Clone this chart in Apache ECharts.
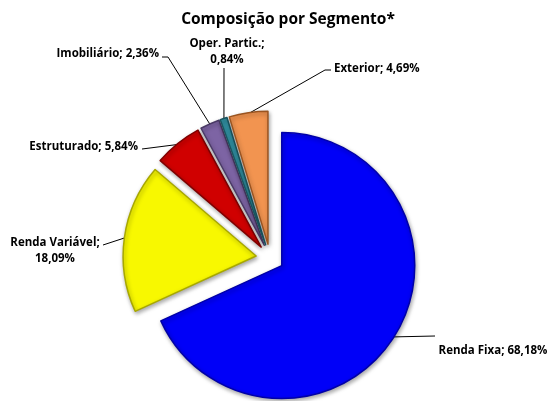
<!DOCTYPE html>
<html>
<head>
<meta charset="utf-8">
<script src="https://cdn.jsdelivr.net/npm/echarts@6/dist/echarts.min.js"></script>
<style>
  html, body { margin: 0; padding: 0; background: #fff; }
  #chart { width: 550px; height: 401px; }
</style>
</head>
<body>
<div id="chart"></div>
<script>
const segments = ["Renda Fixa", "Renda Variável", "Estruturado", "Imobiliário", "Oper. Partic.", "Exterior"];
const shares = [68.18, 18.09, 5.84, 2.36, 0.84, 4.69];
const colors = ["#0000f8", "#f8f800", "#d00000", "#7d64a4", "#3190a2", "#f29450"];
const edgeColors = ["#0000a8", "#a8a800", "#800000", "#4a3a66", "#1a5560", "#9a5420"];

// label placement: text anchor, alignment and where the leader line ends
const labelSpots = [
  { y: 351, align: "center", tx: 493, elbow: [[435, 336]] },
  { y: 251, align: "center", tx: 55, elbow: [[103, 245]] },
  { y: 147, align: "right", tx: 138, elbow: [[142, 149]] },
  { y: 54, align: "right", tx: 159, elbow: [[168, 57], [162, 57]] },
  { y: 52, align: "center", tx: 227, elbow: [[224, 68]] },
  { y: 69, align: "left", tx: 334, elbow: [[325, 70], [331, 70]] },
];

// labels that wrap onto two lines
const twoLine = { "Renda Variável": true, "Oper. Partic.": true };

const CENTER = [270, 258];
const RADIUS = 133;
const EXPLODE = 14;

function fmt(v) {
  return v.toFixed(2).replace(".", ",") + "%";
}

// outer edge point of each exploded slice at its mid angle
function anchors() {
  const total = shares.reduce((a, b) => a + b, 0);
  let acc = 0;
  return shares.map((v) => {
    const mid = ((acc + v / 2) / total) * Math.PI * 2;
    acc += v;
    const d = RADIUS + EXPLODE - 1;
    return [CENTER[0] + d * Math.sin(mid), CENTER[1] - d * Math.cos(mid)];
  });
}

const labelFont = { fontFamily: "Open Sans", fontWeight: "bold", fontSize: 11.5, fill: "#000" };

const graphics = [];
anchors().forEach((pt, i) => {
  const s = labelSpots[i];
  graphics.push({
    type: "polyline",
    silent: true,
    shape: { points: [pt].concat(s.elbow) },
    style: { stroke: "#000", lineWidth: 1, fill: null },
  });
  const name = segments[i];
  const text = (twoLine[name] ? name + ";\n" : name + "; ") + fmt(shares[i]);
  graphics.push({
    type: "text",
    silent: true,
    x: s.tx,
    y: s.y,
    style: Object.assign({
      text,
      align: s.align,
      verticalAlign: "middle",
      lineHeight: 16,
    }, labelFont),
  });
});

const chart = echarts.init(document.getElementById("chart"), null, { renderer: "canvas" });

chart.setOption({
  animation: false,
  title: {
    text: "Composição por Segmento*",
    left: 283,
    top: 7,
    textAlign: "center",
    textStyle: { fontFamily: "Open Sans", fontWeight: "bold", fontSize: 15.5, color: "#000" },
  },
  series: [
    {
      type: "pie",
      center: CENTER,
      radius: RADIUS,
      startAngle: 90,
      clockwise: true,
      selectedMode: "multiple",
      selectedOffset: EXPLODE,
      label: { show: false },
      labelLine: { show: false },
      emphasis: { disabled: true },
      data: segments.map((name, i) => ({
        name,
        value: shares[i],
        selected: true,
        itemStyle: {
          color: colors[i],
          borderColor: edgeColors[i],
          borderWidth: 1.5,
          shadowColor: "rgba(0,0,0,0.35)",
          shadowBlur: 4,
          shadowOffsetX: 1,
          shadowOffsetY: 2,
        },
      })),
    },
  ],
  graphic: graphics,
});
</script>
</body>
</html>
